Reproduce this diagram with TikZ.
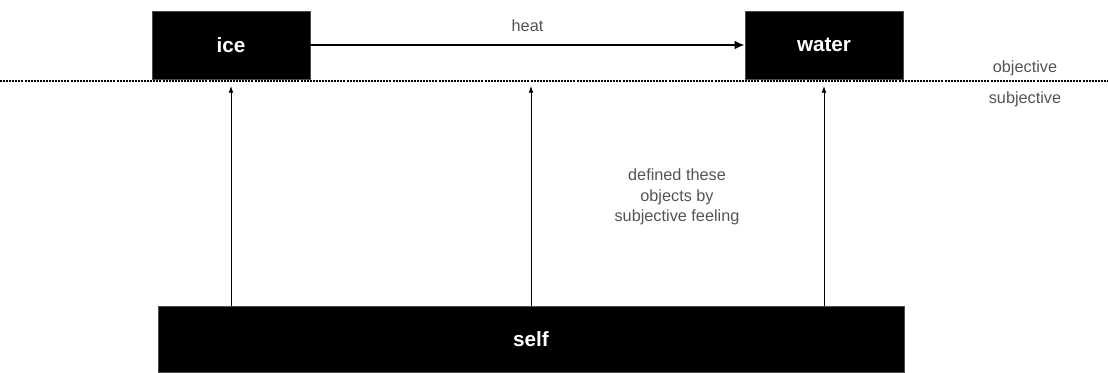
\documentclass[tikz,border=0pt]{standalone}
\usepackage{fontspec}
\setmainfont{Liberation Sans}
\usetikzlibrary{arrows.meta,positioning}
\definecolor{mygray}{rgb}{0.33,0.33,0.33}

\begin{document}
\begin{tikzpicture}[x=0.75pt, y=-0.75pt,
		blackbox/.style={fill=black, draw=black!70, text=white, font=\bfseries\fontsize{15.5}{18}\selectfont, inner sep=0pt},
		greylabel/.style={text=mygray, font=\fontsize{12.2}{15.4}\selectfont, align=center, inner sep=0pt}]
			\useasboundingbox (0,0) rectangle (1108,372);

			% Draw the objects and the self
			\node[blackbox, minimum width=118.5pt, minimum height=51pt] (ice) at (231,45) {ice};
			\node[blackbox, minimum width=118.5pt, minimum height=51pt] (water) at (824,45) {water};
			\node[blackbox, minimum width=559.5pt, minimum height=49.5pt] (self) at (531,339) {self};

			% Draw the border between objective and subjective
			\coordinate (borderleft) at (0,81);
			\coordinate (borderright) at (1108,81);
			\coordinate (tip) at (0,86);
			\draw[dash pattern=on 1.5pt off 0.8pt, line width=0.8pt] (borderleft) -- (borderright);
			\node[greylabel] (objective) at (1025,68) {objective};
			\node[greylabel] (subjective) at (1025,99) {subjective};

			% Draw the heat transition
			\draw[-{Latex[length=7.5pt,width=6.5pt]}, line width=1.5pt] (ice) -- (water) node[greylabel, midway, above=9.5pt] (heat) {heat};

			% Draw the arrows from the self
			\draw[-{Latex[length=5pt,width=3.5pt]}, line width=0.6pt] (self.north -| ice) -- (tip -| ice);
			\draw[-{Latex[length=5pt,width=3.5pt]}, line width=0.6pt] (self.north) -- (tip -| self);
			\draw[-{Latex[length=5pt,width=3.5pt]}, line width=0.6pt] (self.north -| water) -- (tip -| water);

			% Label the arrows
			\node[greylabel] (feeling) at (677,197) {defined these\\objects by\\subjective feeling};
		\end{tikzpicture}
\end{document}
